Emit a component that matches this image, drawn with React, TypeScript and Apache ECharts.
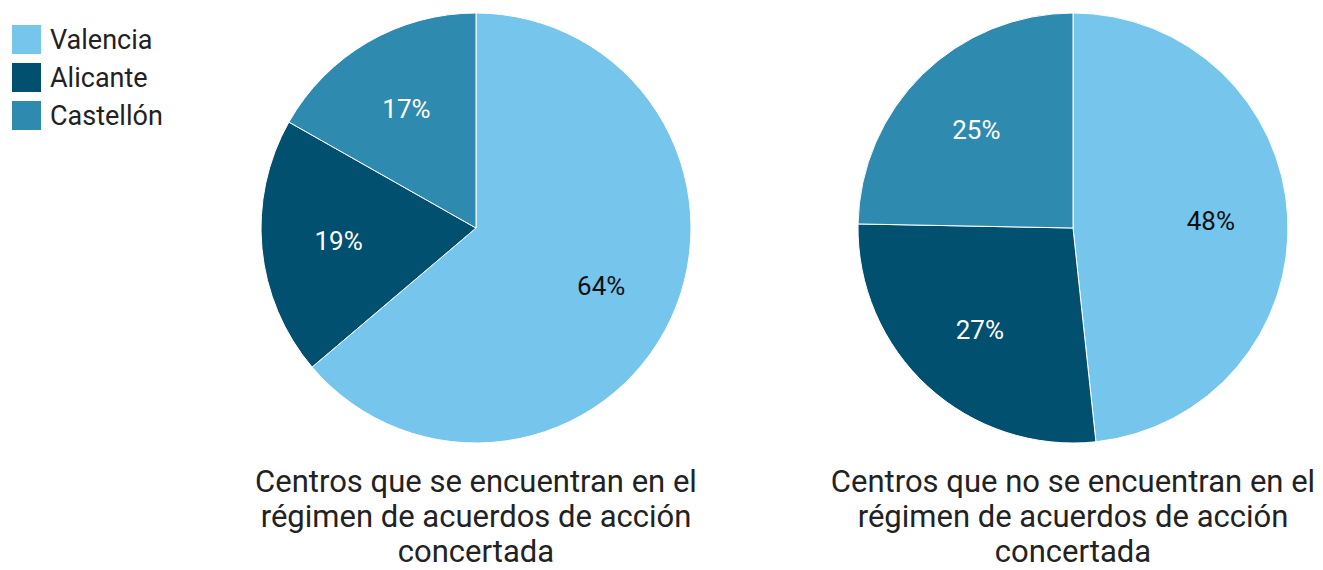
import React, { useEffect, useRef } from "react";
import * as echarts from "echarts";

const categories = ["Valencia", "Alicante", "Castellón"];
const colors = ["#75C5EC", "#02506F", "#2E8AAF"];
const labelColors = ["#111111", "#ffffff", "#ffffff"];
const concertadosValues = [63.8, 19.4, 16.8];
const noConcertadosValues = [48.3, 27.0, 24.7];
const titles = [
  "Centros que se encuentran en el\nrégimen de acuerdos de acción\nconcertada",
  "Centros que no se encuentran en el\nrégimen de acuerdos de acción\nconcertada",
];

const FONT = "Roboto, 'Noto Sans', sans-serif";

function buildSeries(values: number[], cx: number) {
  const base = values.map((v, i) => ({
    name: categories[i],
    value: v,
    itemStyle: { color: colors[i] },
  }));
  const labels = values.map((v, i) => ({
    name: categories[i],
    value: v,
    label: { color: labelColors[i] },
  }));
  return [
    {
      type: "pie",
      center: [cx, 228],
      radius: [0, 215],
      startAngle: 90,
      clockwise: true,
      silent: true,
      label: { show: false },
      labelLine: { show: false },
      itemStyle: { borderColor: "#ffffff", borderWidth: 1 },
      emphasis: { disabled: true },
      data: base,
    },
    {
      type: "pie",
      center: [cx, 228],
      radius: [55, 215],
      startAngle: 90,
      clockwise: true,
      silent: true,
      z: 5,
      itemStyle: { color: "transparent", borderWidth: 0 },
      label: {
        show: true,
        position: "inside",
        fontSize: 26,
        fontFamily: FONT,
        formatter: (p: any) => Math.round(p.percent) + "%",
      },
      labelLine: { show: false },
      emphasis: { disabled: true },
      data: labels,
    },
  ];
}

export default function App() {
  const ref = useRef<HTMLDivElement>(null);
  useEffect(() => {
    if (!ref.current) return;
    const chart = echarts.init(ref.current, null, { renderer: "svg" });
    chart.setOption({
      animation: false,
      backgroundColor: "#ffffff",
      legend: {
        orient: "vertical",
        left: 10,
        top: 23,
        padding: 0,
        itemWidth: 31,
        itemHeight: 31,
        itemGap: 5,
        icon: "rect",
        selectedMode: false,
        data: categories,
        textStyle: { fontSize: 27, color: "#222222", fontFamily: FONT, padding: [0, 0, 0, 3] },
      },
      graphic: [
        {
          type: "text",
          x: 476,
          y: 464,
          style: {
            text: titles[0],
            align: "center",
            verticalAlign: "top",
            fontSize: 31,
            lineHeight: 35,
            fontFamily: FONT,
            fill: "#222222",
          },
        },
        {
          type: "text",
          x: 1073,
          y: 464,
          style: {
            text: titles[1],
            align: "center",
            verticalAlign: "top",
            fontSize: 31,
            lineHeight: 35,
            fontFamily: FONT,
            fill: "#222222",
          },
        },
      ],
      series: [
        ...buildSeries(concertadosValues, 476),
        ...buildSeries(noConcertadosValues, 1073),
      ],
    });
    return () => chart.dispose();
  }, []);
  return (
    <div
      ref={ref}
      style={{ position: "fixed", left: 0, top: 0, width: 1323, height: 570 }}
    />
  );
}
